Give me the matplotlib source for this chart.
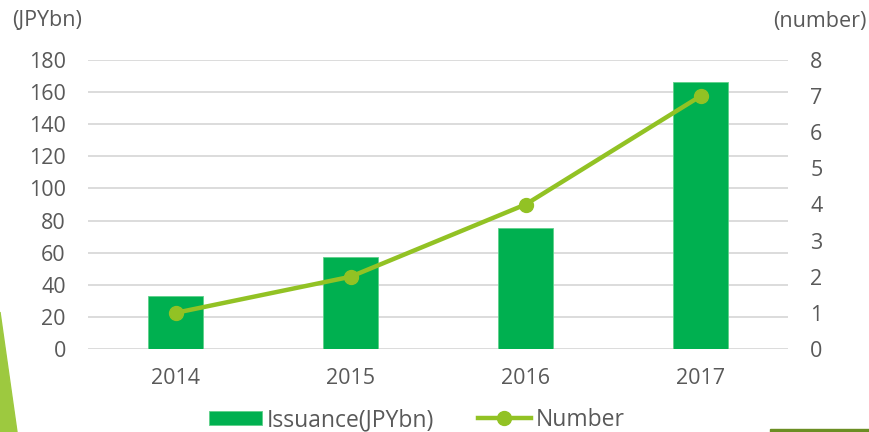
import matplotlib.pyplot as plt
from matplotlib.patches import Polygon, Rectangle

years = ['2014', '2015', '2016', '2017']
issuance = [33, 57.5, 75.5, 166.5]
number = [1, 2, 4, 7]

plt.rcParams['font.family'] = ['Open Sans', 'Noto Sans CJK JP', 'DejaVu Sans']
gray = '#595959'

fig = plt.figure(figsize=(8.69, 4.32), dpi=100)
ax = fig.add_axes([88 / 869, 1 - 349 / 432, 700 / 869, 289 / 432])
ax2 = ax.twinx()

x = range(len(years))
ax.bar(x, issuance, width=0.31, color='#00b050', edgecolor='#5fd08a', linewidth=0.6,
       label='Issuance(JPYbn)', zorder=3)
ax2.plot(x, number, color='#92c224', linewidth=3.2, marker='o', markersize=10,
         label='Number', zorder=4)

ax.set_xlim(-0.5, 3.5)
ax.set_ylim(0, 180)
ax.set_yticks(range(0, 181, 20))
ax2.set_ylim(0, 8)
ax2.set_yticks(range(0, 9))
ax.set_xticks(list(x))
ax.set_xticklabels(years)

ax.grid(axis='y', color='#d9d9d9', linewidth=1.3, zorder=0)
ax.set_axisbelow(True)
for a in (ax, ax2):
    for s in a.spines.values():
        s.set_visible(False)
    a.tick_params(length=0, labelsize=15.5, colors=gray)
ax.tick_params(axis='y', pad=16)
ax2.tick_params(axis='y', pad=16)
ax.tick_params(axis='x', pad=14)

fig.text(12 / 869, 1 - 20 / 432, '(JPYbn)', fontsize=15.5, color=gray, va='center', ha='left')
fig.text(867 / 869, 1 - 22 / 432, '(number)', fontsize=15.5, color=gray, va='center', ha='right')

h1, l1 = ax.get_legend_handles_labels()
h2, l2 = ax2.get_legend_handles_labels()
fig.legend(h1 + h2, l1 + l2, loc='center', bbox_to_anchor=(417 / 869, 1 - 420 / 432),
           ncol=2, frameon=False, fontsize=16.5, labelcolor=gray, handlelength=2.3,
           handleheight=0.55, handletextpad=0.22, columnspacing=1.9,
           borderpad=0.1)

# decorative shapes
fig.patches.append(Polygon([[0, 0], [0, 1 - 312 / 432], [17 / 869, 0]], closed=True,
                           transform=fig.transFigure, color='#9dc93f', zorder=0))
fig.patches.append(Rectangle((770 / 869, 0), 99 / 869, 3 / 432, transform=fig.transFigure,
                             color='#6b8e23', zorder=0))

fig.savefig('out.png', dpi=100)
